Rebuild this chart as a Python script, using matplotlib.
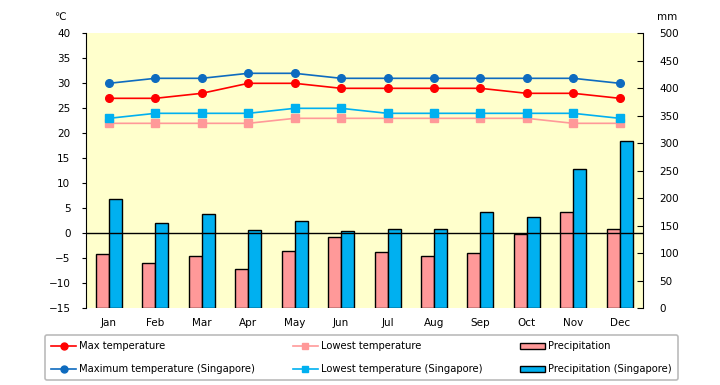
import numpy as np
import matplotlib.pyplot as plt
from matplotlib.lines import Line2D
from matplotlib.patches import Patch

months = ["Jan", "Feb", "Mar", "Apr", "May", "Jun",
          "Jul", "Aug", "Sep", "Oct", "Nov", "Dec"]

max_temp = [27, 27, 28, 30, 30, 29, 29, 29, 29, 28, 28, 27]
max_temp_sg = [30, 31, 31, 32, 32, 31, 31, 31, 31, 31, 31, 30]
low_temp = [22, 22, 22, 22, 23, 23, 23, 23, 23, 23, 22, 22]
low_temp_sg = [23, 24, 24, 24, 25, 25, 24, 24, 24, 24, 24, 23]

precip = [98, 82, 96, 71, 104, 129, 102, 95, 100, 135, 175, 144]
precip_sg = [198, 155, 171, 142, 158, 140, 145, 144, 176, 167, 253, 304]

plt.rcParams['font.family'] = ['DejaVu Sans']
plt.rcParams['font.size'] = 7.5

fig = plt.figure(figsize=(7.2, 3.85), dpi=100)
ax = fig.add_axes([0.119, 0.199, 0.774, 0.7145])
ax2 = ax.twinx()

x = np.arange(len(months))
w = 0.28

# bars on the mm axis, lines on the temperature axis drawn on top
ax2.bar(x - w / 2, precip, w, color="#FF9999", edgecolor="black", linewidth=1)
ax2.bar(x + w / 2, precip_sg, w, color="#00B0F0", edgecolor="black", linewidth=1)
ax2.set_ylim(0, 500)
ax2.set_yticks(np.arange(0, 501, 50))
ax2.tick_params(axis="y", direction="in", length=4, pad=12)
ax2.patch.set_visible(True)
ax2.patch.set_facecolor("#FFFFCC")

ax.set_zorder(ax2.get_zorder() + 1)
ax.patch.set_visible(False)

ax.axhline(0, color="black", linewidth=1)
ax.plot(x, max_temp, color="#FF0000", marker="o", markersize=5.5, linewidth=1.2)
ax.plot(x, max_temp_sg, color="#0E6BBF", marker="o", markersize=5.5, linewidth=1.2)
ax.plot(x, low_temp, color="#FF9999", marker="s", markersize=5.5, linewidth=1.2)
ax.plot(x, low_temp_sg, color="#00B0F0", marker="s", markersize=5.5, linewidth=1.2)

ax.set_ylim(-15, 40)
ax.set_yticks(np.arange(-15, 41, 5))
ax.set_xlim(-0.5, 11.5)
ax.set_xticks(x)
ax.set_xticklabels(months)
ax.tick_params(axis="x", length=0, pad=7)
ax.tick_params(axis="y", direction="out", length=3, pad=8)

for a in (ax, ax2):
    a.spines["top"].set_visible(False)
    a.spines["bottom"].set_visible(False)
ax.spines["right"].set_visible(False)
ax2.spines["left"].set_visible(False)

fig.text(0.083, 0.955, "℃", ha="center", va="center")
fig.text(0.927, 0.955, "mm", ha="center", va="center")

handles = [
    Line2D([], [], color="#FF0000", marker="o", markersize=5, linewidth=1.2),
    Line2D([], [], color="#0E6BBF", marker="o", markersize=5, linewidth=1.2),
    Line2D([], [], color="#FF9999", marker="s", markersize=5, linewidth=1.2),
    Line2D([], [], color="#00B0F0", marker="s", markersize=5, linewidth=1.2),
    Patch(facecolor="#FF9999", edgecolor="black"),
    Patch(facecolor="#00B0F0", edgecolor="black"),
]
labels = ["Max temperature", "Maximum temperature (Singapore)",
          "Lowest temperature", "Lowest temperature (Singapore)",
          "Precipitation", "Precipitation (Singapore)"]
leg = fig.legend(handles, labels, ncol=3, mode="expand",
                 bbox_to_anchor=(0.056, 0.003, 0.892, 0.135), loc="center",
                 frameon=True, fancybox=True, edgecolor="#AAAAAA",
                 fontsize=7.2, handlelength=2.5, handleheight=0.5,
                 handletextpad=0.3, labelspacing=1.3, borderpad=0.6)
leg.get_frame().set_linewidth(1.2)

fig.savefig("out.png", dpi=100)
